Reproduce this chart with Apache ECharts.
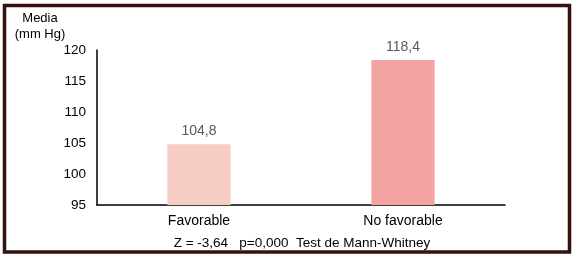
<!DOCTYPE html>
<html>
<head>
<meta charset="utf-8">
<script src="https://cdn.jsdelivr.net/npm/echarts@6/dist/echarts.min.js"></script>
<style>
html,body{margin:0;padding:0;background:#fff;}
#c{width:575px;height:255px;}
</style>
</head>
<body>
<div id="c"></div>
<script>
const categories = ['Favorable', 'No favorable'];
const values = [104.8, 118.4];
const valueLabels = ['104,8', '118,4'];
const barColors = ['#f5cdc5', '#f4a3a3'];
const yMin = 95, yMax = 120, yStep = 5;
const yTitle = ['Media', '(mm Hg)'];
const footnote = 'Z = -3,64   p=0,000  Test de Mann-Whitney';

const font = 'Liberation Sans, Arial, sans-serif';
const chart = echarts.init(document.getElementById('c'), null, {renderer: 'canvas'});
chart.setOption({
  animation: false,
  backgroundColor: '#fff',
  grid: {left: 97, right: 70, top: 50, bottom: 50, containLabel: false},
  xAxis: {
    type: 'category',
    data: categories,
    axisLine: {lineStyle: {color: '#000', width: 1.5}},
    axisTick: {show: false},
    axisLabel: {color: '#000', fontSize: 14, fontFamily: font, margin: 9}
  },
  yAxis: {
    type: 'value',
    min: yMin, max: yMax, interval: yStep,
    axisLine: {show: true, lineStyle: {color: '#000', width: 1.5}},
    axisTick: {show: false},
    splitLine: {show: false},
    axisLabel: {color: '#000', fontSize: 13.5, fontFamily: font, margin: 11}
  },
  series: [{
    type: 'bar',
    barWidth: '31%',
    data: values.map((v, i) => ({value: v, itemStyle: {color: barColors[i]}})),
    label: {
      show: true, position: 'top', distance: 6,
      color: '#595959', fontSize: 14, fontFamily: font,
      formatter: p => valueLabels[p.dataIndex]
    }
  }],
  graphic: [
    {type: 'rect', shape: {x: 4.5, y: 5.5, width: 565, height: 246.5},
     style: {fill: 'none', stroke: '#35120c', lineWidth: 3.5}, z: 100},
    {type: 'text', x: 40, y: 18, style: {text: yTitle[0], fill: '#000', font: '13px ' + font, textAlign: 'center', textVerticalAlign: 'middle'}},
    {type: 'text', x: 40, y: 34, style: {text: yTitle[1], fill: '#000', font: '13px ' + font, textAlign: 'center', textVerticalAlign: 'middle'}},
    {type: 'text', x: 302, y: 243, style: {text: footnote, fill: '#000', font: '13.5px ' + font, textAlign: 'center', textVerticalAlign: 'middle'}}
  ]
});
</script>
</body>
</html>
